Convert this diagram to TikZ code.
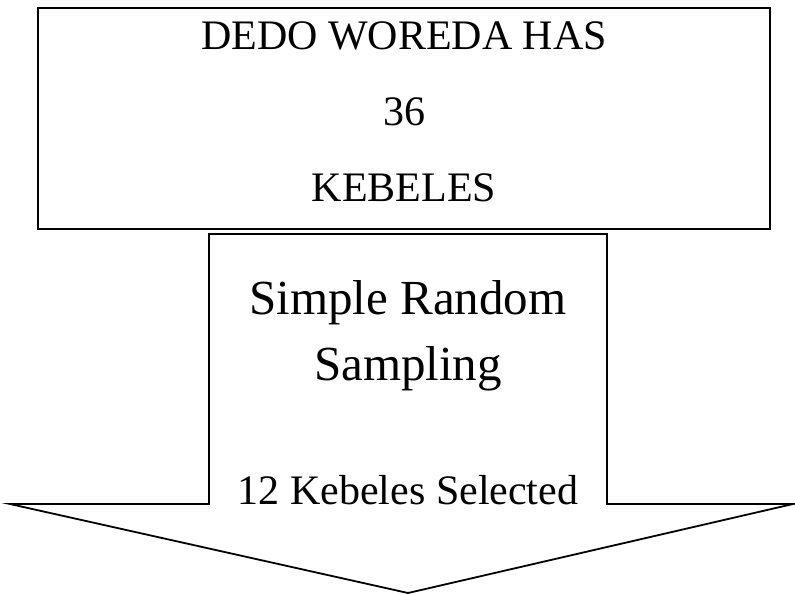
\documentclass[tikz,border=0pt]{standalone}
\usepackage{fontspec}
\setmainfont{Liberation Serif}
\begin{document}
\begin{tikzpicture}[x=1pt,y=-1pt,
  boxtext/.style={font=\fontsize{42}{42}\selectfont, anchor=base, inner sep=0pt},
  bigtext/.style={font=\fontsize{49}{49}\selectfont, anchor=base, inner sep=0pt},
  frame/.style={draw=black, line width=2.4pt},
  arrowline/.style={draw=black, line width=1.8pt, line join=miter}]
  \useasboundingbox (0,0) rectangle (795,595);
  % top box
  \draw[frame] (38,8) rectangle (770,229);
  \node[boxtext] (t1) at (404,49) {DEDO WOREDA HAS};
  \node[boxtext] (t2) at (404,125) {36};
  \node[boxtext] (t3) at (404,201) {KEBELES};
  % block arrow pointing down
  \draw[arrowline] (209,234) -- (607,234) -- (607,504) -- (793,504)
    -- (408,593) -- (10,504) -- (209,504) -- cycle;
  \node[bigtext] (a1) at (408,314) {Simple Random};
  \node[bigtext] (a2) at (408,380) {Sampling};
  \node[boxtext] (a3) at (408,504) {12 Kebeles Selected};
\end{tikzpicture}
\end{document}
